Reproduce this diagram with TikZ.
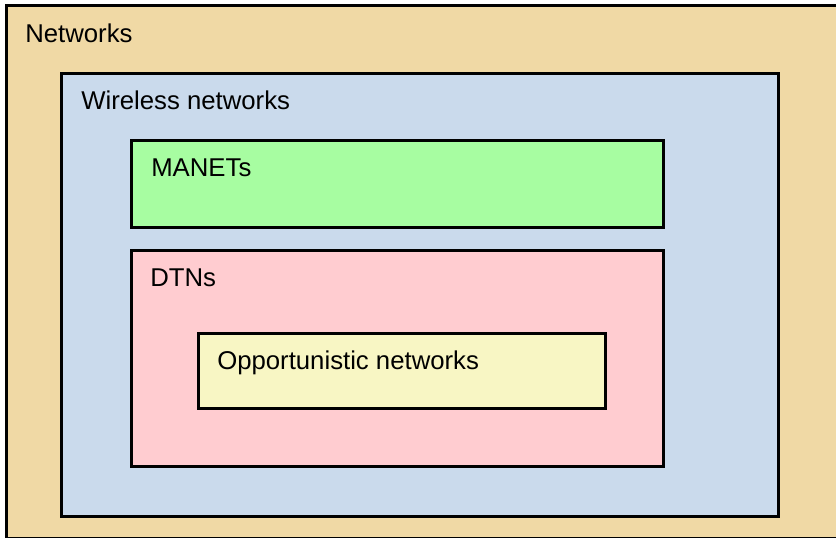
\documentclass[tikz,border=0pt]{standalone}
\usepackage{fontspec}
\setmainfont{Liberation Sans}

\definecolor{nettan}{RGB}{240,217,165}
\definecolor{wlblue}{RGB}{202,218,236}
\definecolor{manetgreen}{RGB}{167,253,161}
\definecolor{dtnpink}{RGB}{255,204,208}
\definecolor{oppyellow}{RGB}{248,246,196}

\begin{document}
\begin{tikzpicture}[
  x=0.75pt, y=-0.75pt,
  box/.style={line width=2.25pt, draw=black},
  lab/.style={font=\fontsize{19.3}{23}\selectfont, anchor=base west, inner sep=0pt}]

\useasboundingbox (0,0) rectangle (836,538);
\clip (0,0) rectangle (836,538);

% ======================= nested network classes =========================
\draw[box, fill=nettan]     (6.5,6)     rectangle (840,538.5);
\draw[box, fill=wlblue]     (61.5,73.5) rectangle (778.5,516.5);
\draw[box, fill=manetgreen] (131.5,140.5) rectangle (663.5,227.5);
\draw[box, fill=dtnpink]    (131.5,250.5) rectangle (663.5,466.5);
\draw[box, fill=oppyellow]  (198.5,333.5) rectangle (605.5,408.5);

% ============================== labels =================================
\node[lab] (netlab)   at (25,43)   {Networks};
\node[lab] (wlab)     at (81,110)  {Wireless networks};
\node[lab] (manetlab) at (151,177) {MANETs};
\node[lab] (dtnlab)   at (150,287) {DTNs};
\node[lab] (opplab)   at (217,370) {Opportunistic networks};

\end{tikzpicture}
\end{document}
